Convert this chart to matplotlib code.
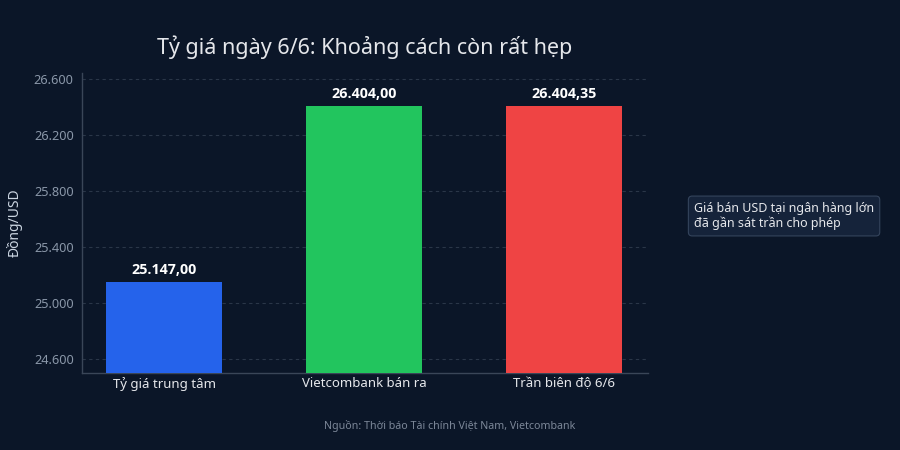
import matplotlib
matplotlib.use("Agg")
import matplotlib.pyplot as plt

categories = ["Tỷ giá trung tâm", "Vietcombank bán ra", "Trần biên độ 6/6"]
values = [25147.00, 26404.00, 26404.35]
value_labels = ["25.147,00", "26.404,00", "26.404,35"]
colors = ["#2563eb", "#22c55e", "#ef4444"]
yticks = [24600, 25000, 25400, 25800, 26200, 26600]
ytick_labels = ["24.600", "25.000", "25.400", "25.800", "26.200", "26.600"]

BG = "#0b1628"
plt.rcParams['font.family'] = ['Noto Sans', 'DejaVu Sans']

fig = plt.figure(figsize=(9, 4.5), dpi=100, facecolor=BG)
ax = fig.add_axes([82/900, 1-373/450, (648-82)/900, (373-73)/450])
ax.set_facecolor(BG)

x = list(range(len(categories)))
ax.bar(x, values, width=0.58, color=colors, zorder=3)
for xi, v, lab in zip(x, values, value_labels):
    ax.text(xi, v + 40, lab, ha='center', va='bottom', color='white',
            fontsize=10.3, fontweight='bold', family=['Open Sans', 'Noto Sans', 'DejaVu Sans'],
            zorder=4)

ax.set_xlim(-0.4125, 2.42)
ax.set_ylim(24500, 26643)
ax.set_yticks(yticks)
ax.set_yticklabels(ytick_labels)
ax.set_xticks(x)
ax.set_xticklabels(categories)
ax.tick_params(axis='y', colors='#8a97a8', labelsize=9.2, length=0, pad=6)
ax.tick_params(axis='x', colors='#e5e7eb', labelsize=9.5, length=0, pad=3)
ax.grid(axis='y', color='#2a3648', linestyle=(0, (3, 3)), linewidth=0.8, zorder=0)
for s in ['top', 'right']:
    ax.spines[s].set_visible(False)
for s in ['left', 'bottom']:
    ax.spines[s].set_color('#3a4658')
    ax.spines[s].set_linewidth(1)

ax.set_ylabel("Đồng/USD", color='#cbd5e1', fontsize=10)
ax.yaxis.set_label_coords((23 - 82) / 566, 0.5)

fig.text(365/900, 1-47/450, "Tỷ giá ngày 6/6: Khoảng cách còn rất hẹp",
         ha='center', va='center', color='#e5e7eb', fontsize=15.5)

fig.text(694/900, 1-216/450, "Giá bán USD tại ngân hàng lớn\nđã gần sát trần cho phép",
         ha='left', va='center', color='#e5e7eb', fontsize=9, linespacing=1.2,
         bbox=dict(boxstyle='round,pad=0.45,rounding_size=0.3', facecolor='#15233a',
                   edgecolor='#34445c', linewidth=0.8))

fig.text(450/900, 1-426/450, "Nguồn: Thời báo Tài chính Việt Nam, Vietcombank",
         ha='center', va='center', color='#7c8798', fontsize=7.7)

fig.savefig("out.png", dpi=100, facecolor=BG)
